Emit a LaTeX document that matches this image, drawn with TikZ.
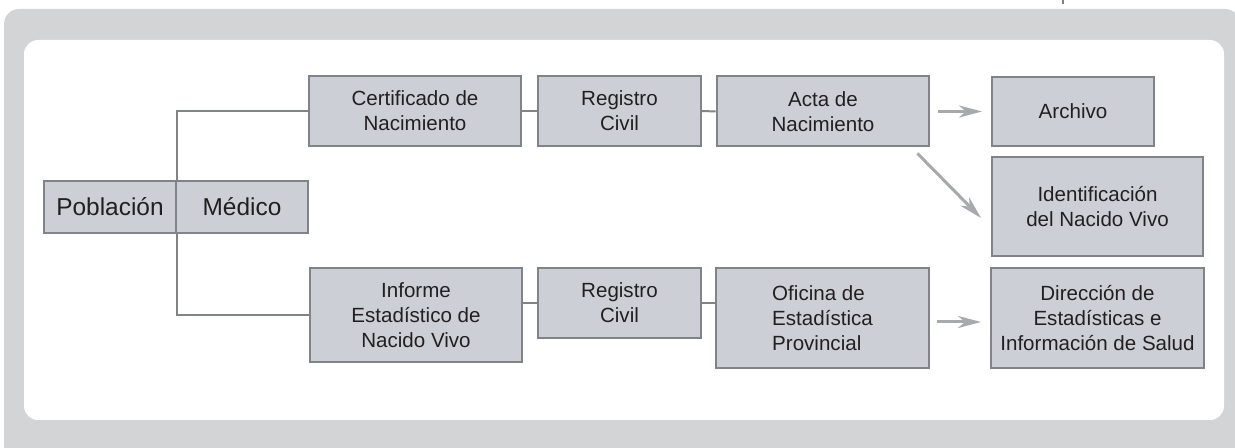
\documentclass[tikz,border=0pt]{standalone}
\usepackage{fontspec}
\setmainfont{Liberation Sans}
\usetikzlibrary{arrows.meta}

\definecolor{framegrey}{RGB}{211,212,214}
\definecolor{boxfill}{RGB}{205,207,214}
\definecolor{boxline}{RGB}{128,131,136}
\definecolor{arrowgrey}{RGB}{167,169,172}
\definecolor{txt}{RGB}{35,31,32}

\begin{document}
\begin{tikzpicture}[x=0.02cm,y=-0.02cm]
    \tikzstyle{box}=[draw=boxline, fill=boxfill, line width=0.04cm, inner sep=0pt,
        align=center, text=txt, font=\fontsize{11.7}{14.4}\selectfont]
    \tikzstyle{bigbox}=[box, font=\fontsize{13.9}{16}\selectfont]
    \tikzstyle{link}=[draw=boxline, line width=0.04cm]
    \tikzstyle{flow}=[draw=arrowgrey, line width=0.06cm,
        -{Stealth[length=0.46cm, width=0.24cm, inset=0.14cm]}]
    \clip (0,0) rectangle (1235,448);
    % frame
    \fill [framegrey, rounded corners=0.3cm] (4,9) rectangle (1240,470);
    \fill [white, rounded corners=0.28cm] (24,40) rectangle (1224,420);
    \draw [boxline, line width=0.03cm] (1063,0) -- (1063,4);
    % left pair
    \node [bigbox, minimum width=2.64cm, minimum height=1.04cm] (pob) at (110,207) {Población};
    \node [bigbox, minimum width=2.64cm, minimum height=1.04cm] (med) at (242,207) {Médico};
    % upper row
    \node [box, minimum width=4.26cm, minimum height=1.4cm] (cert) at (415,111) {Certificado de\\Nacimiento};
    \node [box, minimum width=3.26cm, minimum height=1.4cm] (regA) at (619.5,111) {Registro\\Civil};
    \node [box, minimum width=4.26cm, minimum height=1.4cm] (acta) at (823,111.5) {Acta de\\Nacimiento};
    \node [box, minimum width=3.24cm, minimum height=1.38cm] (arch) at (1073,111.5) {Archivo};
    \node [box, minimum width=4.22cm, minimum height=1.98cm] (ident) at (1097.5,206.5) {Identificación\\del Nacido Vivo};
    % lower row
    \node [box, minimum width=4.26cm, minimum height=1.88cm] (inf) at (416,315) {Informe\\Estadístico de\\Nacido Vivo};
    \node [box, minimum width=3.26cm, minimum height=1.4cm] (regB) at (619.5,303) {Registro\\Civil};
    \node [box, minimum width=4.26cm, minimum height=2cm, align=left] (ofi) at (822.5,318) {Oficina de\\Estadística\\Provincial};
    \node [box, minimum width=4.26cm, minimum height=2cm] (dir) at (1097.5,318) {Dirección de\\Estadísticas e\\Información de Salud};
    % links
    \draw [link] (pob.north east) |- (cert.west);
    \draw [link] (pob.south east) |- (inf.west);
    \draw [link] (cert.east) -- (regA.west);
    \draw [link] (regA.east) -- (acta.west);
    \draw [link] (regB.west) -- (regB.west -| inf.east);
    \draw [link] (regB.east) -- (regB.east -| ofi.west);
    % arrows
    \draw [flow, shorten <=0.16cm, shorten >=0.18cm] (acta.east) -- (arch.west);
    \draw [flow] ([xshift=-0.26cm,yshift=-0.12cm]acta.south east) -- ([xshift=-0.2cm,yshift=-0.23cm]ident.west);
    \draw [flow, shorten <=0.14cm, shorten >=0.18cm] ([yshift=-0.08cm]ofi.east) -- ([yshift=-0.08cm]dir.west);
\end{tikzpicture}
\end{document}
